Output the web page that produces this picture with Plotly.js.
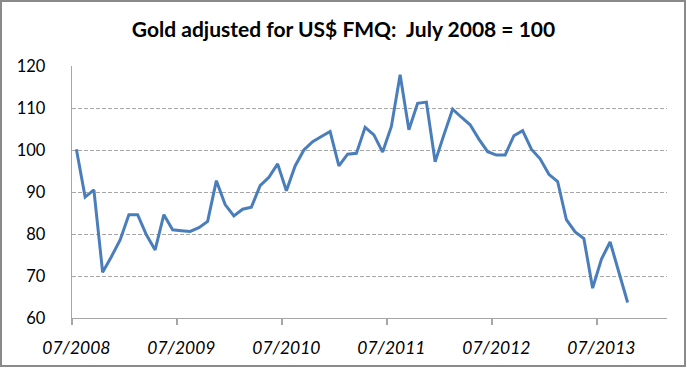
<!DOCTYPE html>
<html>
<head>
<meta charset="utf-8">
<script src="https://cdn.plot.ly/plotly-3.0.1.min.js"></script>
<style>
  html, body { margin: 0; padding: 0; background: #fff; }
  #wrap { position: relative; width: 687px; height: 369px; }
  #chart { position: absolute; left: 0; top: 0; width: 687px; height: 369px; }
  #frame { position: absolute; left: 0; top: 0; width: 682px; height: 363px;
           border: 2px solid #8a8a8a; pointer-events: none; }
</style>
</head>
<body>
<div id="wrap">
  <div id="chart"></div>
  <div id="frame"></div>
</div>
<script>
// Monthly index, 07/2008 .. 10/2013 (July 2008 = 100)
const months = [
  '2008-07','2008-08','2008-09','2008-10','2008-11','2008-12',
  '2009-01','2009-02','2009-03','2009-04','2009-05','2009-06',
  '2009-07','2009-08','2009-09','2009-10','2009-11','2009-12',
  '2010-01','2010-02','2010-03','2010-04','2010-05','2010-06',
  '2010-07','2010-08','2010-09','2010-10','2010-11','2010-12',
  '2011-01','2011-02','2011-03','2011-04','2011-05','2011-06',
  '2011-07','2011-08','2011-09','2011-10','2011-11','2011-12',
  '2012-01','2012-02','2012-03','2012-04','2012-05','2012-06',
  '2012-07','2012-08','2012-09','2012-10','2012-11','2012-12',
  '2013-01','2013-02','2013-03','2013-04','2013-05','2013-06',
  '2013-07','2013-08','2013-09','2013-10'
];
const goldIndex = [
  100.2, 88.8, 90.5, 70.9, 74.6, 78.6,
  84.6, 84.6, 79.8, 76.2, 84.6, 81.0,
  80.8, 80.6, 81.5, 83.0, 92.7, 87.0,
  84.3, 85.9, 86.4, 91.5, 93.5, 96.7,
  90.3, 96.2, 100.0, 102.0, 103.2, 104.4,
  96.2, 99.0, 99.2, 105.4, 103.6, 99.5,
  105.6, 117.9, 104.8, 111.1, 111.4, 97.2,
  103.6, 109.7, 107.8, 106.0, 102.6, 99.6,
  98.8, 98.8, 103.4, 104.6, 100.2, 97.9,
  94.2, 92.5, 83.4, 80.5, 78.9, 67.1,
  74.0, 78.1, 70.9, 63.7
];
// axis extends to 02/2014 (68 monthly slots)
const axisSlots = 68;
const tickMonths = ['2008-07','2009-07','2010-07','2011-07','2012-07','2013-07'];
const tickLabels = ['07/2008','07/2009','07/2010','07/2011','07/2012','07/2013'];
const yTicks = [60, 70, 80, 90, 100, 110, 120];

// tick marks sit on the boundaries between yearly groups of categories
const boundaryTicks = tickMonths.map(m => months.indexOf(m) - 0.5);

const trace = {
  x: months,
  y: goldIndex,
  type: 'scatter',
  mode: 'lines',
  line: { color: '#4a7ebb', width: 3 },
  hoverinfo: 'x+y'
};
const tickTrace = { x: [], y: [], xaxis: 'x2', yaxis: 'y', type: 'scatter', mode: 'lines', showlegend: false };

const layout = {
  width: 687,
  height: 369,
  margin: { l: 72, r: 20, t: 66, b: 51, pad: 0 },
  paper_bgcolor: '#ffffff',
  plot_bgcolor: '#ffffff',
  showlegend: false,
  title: {
    text: 'Gold adjusted for US$ FMQ:  July 2008 = 100',
    font: { family: 'Lato', size: 21, color: '#000000', weight: 'bold' },
    xref: 'container', x: 0.5, xanchor: 'center',
    yref: 'container', y: 1 - 30 / 369, yanchor: 'middle'
  },
  xaxis: {
    type: 'category',
    range: [-0.5, axisSlots - 0.5],
    tickvals: tickMonths,
    ticktext: tickLabels,
    ticks: '',
    showgrid: false,
    zeroline: false,
    showline: true,
    linecolor: '#a6a6a6',
    linewidth: 1.3,
    tickfont: { family: 'Lato', size: 17.5, color: '#000000', style: 'italic' },
    ticklabelstandoff: 14,
    fixedrange: true
  },
  xaxis2: {
    overlaying: 'x',
    anchor: 'y',
    side: 'bottom',
    type: 'linear',
    range: [-0.5, axisSlots - 0.5],
    tickvals: boundaryTicks,
    ticks: 'outside',
    ticklen: 6,
    tickwidth: 1.3,
    tickcolor: '#a6a6a6',
    showticklabels: false,
    showgrid: false,
    zeroline: false,
    showline: false,
    fixedrange: true
  },
  yaxis: {
    range: [60, 120],
    tickvals: yTicks,
    ticks: '',
    showline: true,
    linecolor: '#a6a6a6',
    linewidth: 1.3,
    showgrid: true,
    gridcolor: '#a6a6a6',
    gridwidth: 1,
    griddash: '4px,2px',
    zeroline: false,
    tickfont: { family: 'Lato', size: 16.5, color: '#000000' },
    ticklabelstandoff: 22,
    fixedrange: true
  }
};

Plotly.newPlot('chart', [trace, tickTrace], layout, { displayModeBar: false, staticPlot: true });
</script>
</body>
</html>
